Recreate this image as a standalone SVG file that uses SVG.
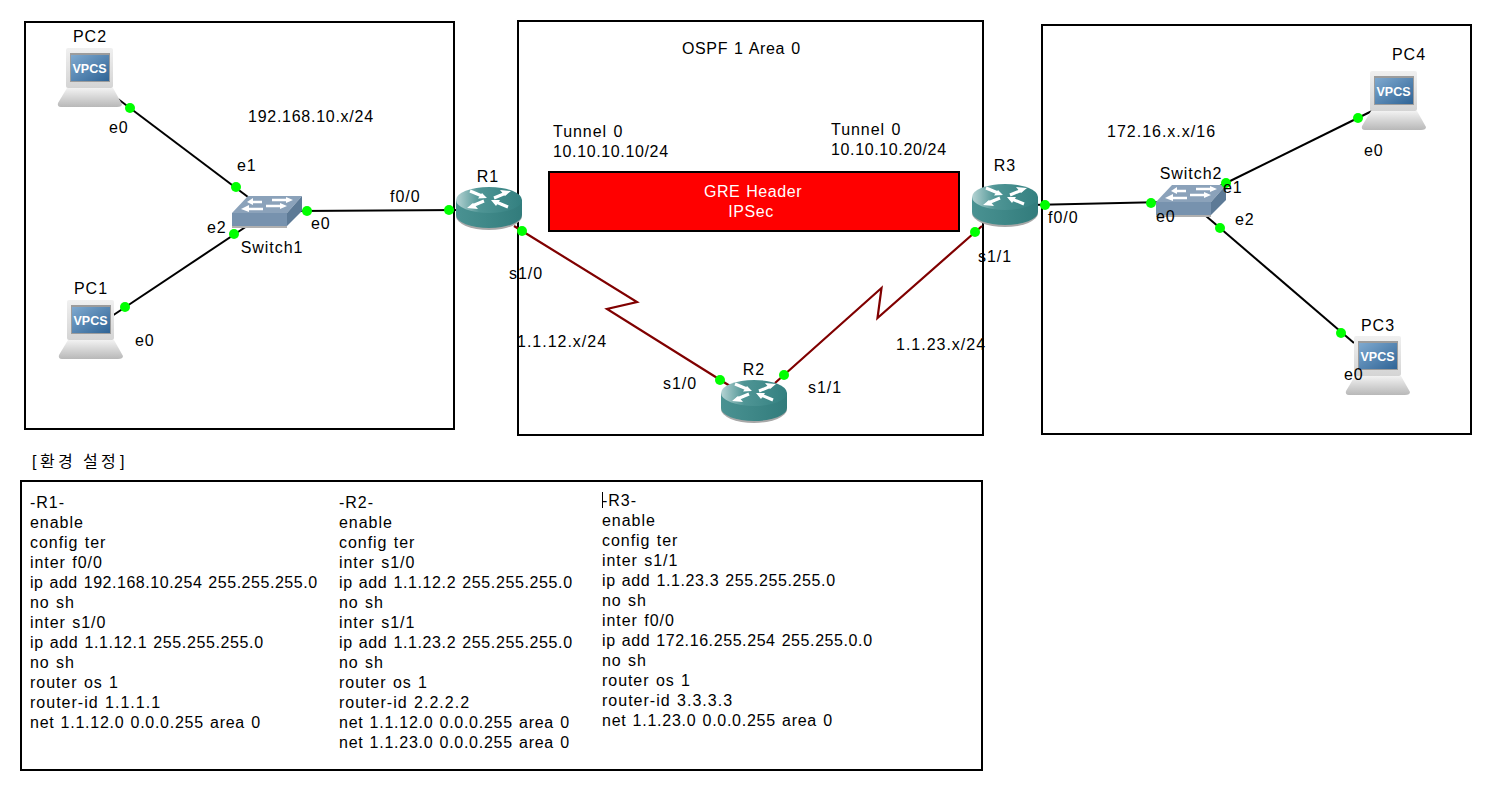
<svg xmlns="http://www.w3.org/2000/svg" width="1492" height="791" viewBox="0 0 1492 791">
<style>
text{font-family:"Liberation Sans",Arial,"Noto Sans CJK KR",sans-serif;font-size:16px;letter-spacing:.95px;word-spacing:1px;fill:#000}
.c{text-anchor:middle}
.box{fill:none;stroke:#000;stroke-width:2}
.eth{fill:none;stroke:#000;stroke-width:2}
.ser{fill:none;stroke:#800000;stroke-width:2.200}
.dot{fill:#00ff00}
.wa{fill:none;stroke:#fff;stroke-width:3}
.wh{fill:#fff}
.sa{fill:none;stroke:#fff;stroke-width:2.500}
</style>
<defs>
<linearGradient id="pcbase" x1="0" y1="0" x2="0" y2="1"><stop offset="0" stop-color="#f2f2f2"/><stop offset="1" stop-color="#b8b8b8"/></linearGradient>
<linearGradient id="pcmon" x1="0" y1="0" x2="0" y2="1"><stop offset="0" stop-color="#f0f0f0"/><stop offset="1" stop-color="#d4d4d4"/></linearGradient>
<linearGradient id="pcscr" x1="0" y1="0" x2="1" y2="1"><stop offset="0" stop-color="#7fa9cf"/><stop offset="1" stop-color="#2f6496"/></linearGradient>
<linearGradient id="rt" x1="0" y1="0" x2="1" y2="0"><stop offset="0" stop-color="#b5d3d3"/><stop offset=".35" stop-color="#4f9595"/><stop offset="1" stop-color="#338080"/></linearGradient>
<linearGradient id="rs" x1="0" y1="0" x2="1" y2="0"><stop offset="0" stop-color="#4a9292"/><stop offset="1" stop-color="#327c7c"/></linearGradient>
<g id="pc">
<path d="M10 41H56L65 57Q65 60 60 60H4Q0 60 1 56Z" fill="url(#pcbase)"/>
<rect x="9" y="1" width="47" height="40" rx="2" fill="url(#pcmon)"/>
<rect x="13" y="6" width="40" height="29" fill="#9c9c9c"/>
<rect x="14" y="8" width="38" height="26" fill="url(#pcscr)"/>
<text x="32.500" y="25.500" class="c" style="font-size:12.500px;font-weight:bold;fill:#fff;letter-spacing:0">VPCS</text>
</g>
<g id="sw">
<rect x="0" y="29" width="55" height="3" fill="#b0b0b0"/>
<path d="M0 17L16 0H70L55 17Z" fill="#8ba2ba"/>
<rect x="0" y="17" width="55" height="13" fill="#7792ae"/>
<path d="M55 17L70 0V15L55 30Z" fill="#5d7a96"/>
<path class="sa" d="M30 6H20M40 4H56M31 13H16M34 10H50"/>
<path class="wh" d="M15 6L21 2V9ZM61 4L54 1V7ZM9 13L17 9V16ZM55 10L48 7V13Z"/>
</g>
<g id="rtr">
<ellipse cx="33" cy="29" rx="33" ry="14" fill="#a8a8a8"/>
<path d="M0 13V28A33 13 0 0 0 66 28V13Z" fill="url(#rs)"/>
<ellipse cx="33" cy="13" rx="33" ry="13" fill="url(#rt)"/>
<path class="wa" d="M14 4L26 9M38 11L50 6M28 14L16 19M52 20L40 15"/>
<path class="wh" d="M31 11L22 11.500L26 6ZM55 4L44 3L49 9ZM11 21L22 22L17 16ZM35 13L44 13L40 19Z"/>
</g>
</defs>
<rect width="1492" height="791" fill="#fff"/>
<g id="areas">
<rect class="box" x="25" y="22" width="429" height="407"/>
<rect class="box" x="518" y="21" width="465" height="414"/>
<rect class="box" x="1042" y="25" width="429" height="409"/>
</g>
<g id="connectors">
<path class="eth" d="M118 99L248 197"/>
<path class="eth" d="M112 316L247 226"/>
<path class="eth" d="M298 211L460 210"/>
<path class="ser" d="M514 226L637 302L607 309L730 386"/>
<path class="ser" d="M775 383L881.500 288L877.500 318L982 226"/>
<path class="eth" d="M1030 205L1165 202"/>
<path class="eth" d="M1220 186L1372 111"/>
<path class="eth" d="M1206 216L1354 343"/>
</g>
<g id="tunnel">
<rect x="549" y="172" width="410" height="59" fill="#ff0000" stroke="#000" stroke-width="2"/>
<text x="753" y="197" class="c" style="fill:#fff;letter-spacing:.55px">GRE Header</text>
<text x="751" y="217" class="c" style="fill:#fff;letter-spacing:.55px">IPSec</text>
</g>
<g id="PC2"><use href="#pc" x="57" y="47"/><text x="90" y="42" class="c">PC2</text></g>
<g id="PC1"><use href="#pc" x="58" y="299"/><text x="91" y="294" class="c">PC1</text></g>
<g id="PC4"><use href="#pc" x="1361" y="70"/><text x="1409" y="60" class="c">PC4</text></g>
<g id="PC3"><use href="#pc" x="1345" y="335"/><text x="1378" y="331" class="c">PC3</text></g>
<g id="Switch1"><use href="#sw" x="232" y="196"/><text x="272" y="253" class="c">Switch1</text></g>
<g id="Switch2"><use href="#sw" x="1156" y="185"/><text x="1191" y="179" class="c">Switch2</text></g>
<g id="R1"><use href="#rtr" x="456" y="187"/><text x="488" y="182" class="c">R1</text></g>
<g id="R2"><use href="#rtr" x="721" y="380"/><text x="754" y="375" class="c">R2</text></g>
<g id="R3"><use href="#rtr" x="972" y="184"/><text x="1005" y="171" class="c">R3</text></g>
<g id="ports">
<circle class="dot" cx="130" cy="108" r="5"/><circle class="dot" cx="236" cy="187" r="5"/>
<circle class="dot" cx="125" cy="307" r="5"/><circle class="dot" cx="234" cy="234" r="5"/>
<circle class="dot" cx="307" cy="211" r="5"/><circle class="dot" cx="449" cy="210" r="5"/>
<circle class="dot" cx="522" cy="231" r="5"/><circle class="dot" cx="720" cy="380" r="5"/>
<circle class="dot" cx="784" cy="375" r="5"/><circle class="dot" cx="975" cy="232" r="5"/>
<circle class="dot" cx="1045" cy="205" r="5"/><circle class="dot" cx="1151" cy="203" r="5"/>
<circle class="dot" cx="1226" cy="183" r="5"/><circle class="dot" cx="1358" cy="118" r="5"/>
<circle class="dot" cx="1220" cy="228" r="5"/><circle class="dot" cx="1341" cy="333" r="5"/>
</g>
<g id="labels">
<text x="109" y="133">e0</text><text x="237" y="171">e1</text><text x="207" y="233">e2</text>
<text x="135" y="346">e0</text><text x="311" y="229">e0</text><text x="390" y="202">f0/0</text>
<text x="248" y="122" textLength="126">192.168.10.x/24</text>
<text x="682" y="54" textLength="119">OSPF 1 Area 0</text>
<text x="553" y="137">Tunnel 0</text><text x="553" y="157" textLength="116">10.10.10.10/24</text>
<text x="831" y="135">Tunnel 0</text><text x="831" y="155" textLength="116">10.10.10.20/24</text>
<text x="509" y="279">s1/0</text><text x="517" y="347" textLength="90">1.1.12.x/24</text>
<text x="663" y="389">s1/0</text><text x="808" y="393">s1/1</text>
<text x="978" y="262">s1/1</text><text x="896" y="350" textLength="90">1.1.23.x/24</text>
<text x="1048" y="223">f0/0</text><text x="1156" y="222">e0</text>
<text x="1223" y="193">e1</text><text x="1235" y="225">e2</text>
<text x="1107" y="137" textLength="109">172.16.x.x/16</text>
<text x="1364" y="156">e0</text><text x="1344" y="380">e0</text>
<text x="32 40 58 76 83 101 120" y="467" style="letter-spacing:0;word-spacing:0">[환경 설정]</text>
</g>
<g id="config">
<rect class="box" x="21" y="481" width="961" height="289"/>
<text x="30" y="508">-R1-</text><text x="30" y="528">enable</text><text x="30" y="548">config ter</text><text x="30" y="568">inter f0/0</text><text x="30" y="588" textLength="288">ip add 192.168.10.254 255.255.255.0</text><text x="30" y="608">no sh</text><text x="30" y="628">inter s1/0</text><text x="30" y="648" textLength="234">ip add 1.1.12.1 255.255.255.0</text><text x="30" y="668">no sh</text><text x="30" y="688">router os 1</text><text x="30" y="708" textLength="131">router-id 1.1.1.1</text><text x="30" y="728" textLength="231">net 1.1.12.0 0.0.0.255 area 0</text>
<text x="339" y="508">-R2-</text><text x="339" y="528">enable</text><text x="339" y="548">config ter</text><text x="339" y="568">inter s1/0</text><text x="339" y="588" textLength="234">ip add 1.1.12.2 255.255.255.0</text><text x="339" y="608">no sh</text><text x="339" y="628">inter s1/1</text><text x="339" y="648" textLength="234">ip add 1.1.23.2 255.255.255.0</text><text x="339" y="668">no sh</text><text x="339" y="688">router os 1</text><text x="339" y="708" textLength="131">router-id 2.2.2.2</text><text x="339" y="728" textLength="231">net 1.1.12.0 0.0.0.255 area 0</text><text x="339" y="748" textLength="231">net 1.1.23.0 0.0.0.255 area 0</text>
<path d="M602.500 492V508" stroke="#000" stroke-width="1"/>
<text x="602" y="506">-R3-</text><text x="602" y="526">enable</text><text x="602" y="546">config ter</text><text x="602" y="566">inter s1/1</text><text x="602" y="586" textLength="234">ip add 1.1.23.3 255.255.255.0</text><text x="602" y="606">no sh</text><text x="602" y="626">inter f0/0</text><text x="602" y="646" textLength="271">ip add 172.16.255.254 255.255.0.0</text><text x="602" y="666">no sh</text><text x="602" y="686">router os 1</text><text x="602" y="706" textLength="131">router-id 3.3.3.3</text><text x="602" y="726" textLength="231">net 1.1.23.0 0.0.0.255 area 0</text>
</g>
</svg>
